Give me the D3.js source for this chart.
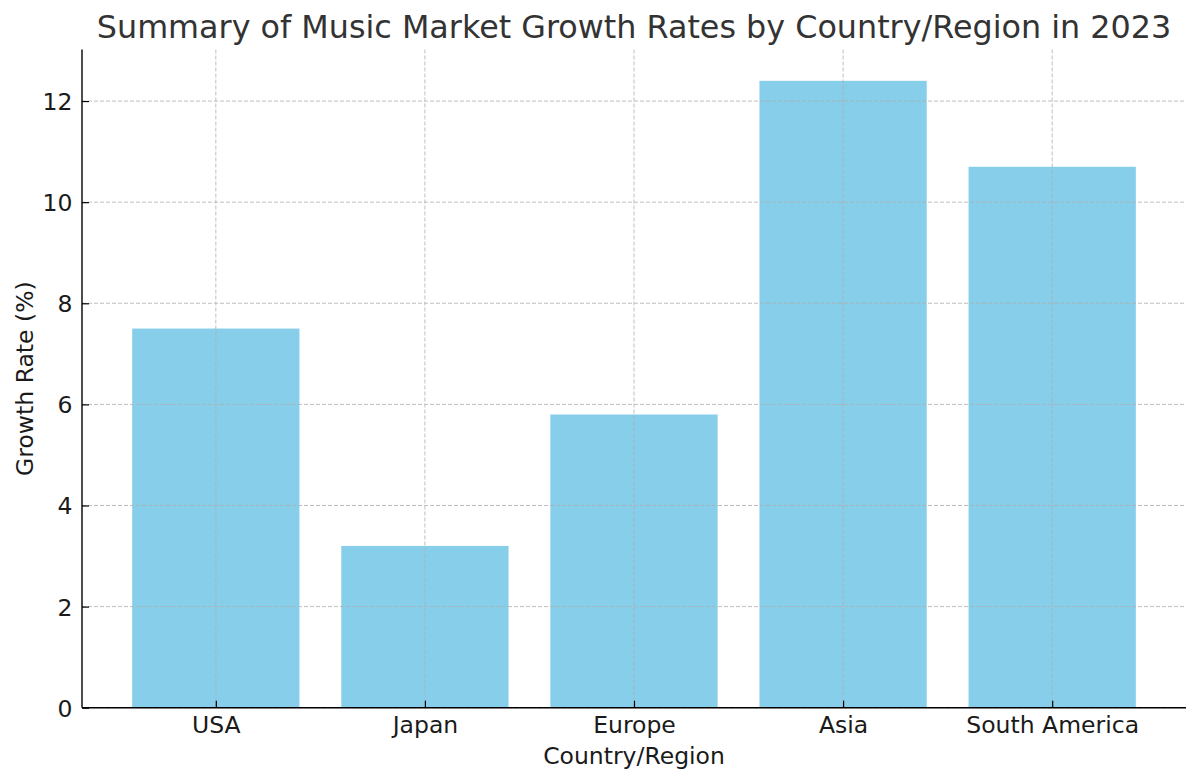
<!DOCTYPE html>
<html>
<head>
<meta charset="utf-8">
<script src="https://cdn.jsdelivr.net/npm/d3@7"></script>
<style>
  body { margin: 0; background: #fff; }
  svg { display: block; font-family: "DejaVu Sans", sans-serif; }
</style>
</head>
<body>
<svg id="chart" width="1200" height="784"></svg>
<script>
// data
const regions = ["USA", "Japan", "Europe", "Asia", "South America"];
const growthRates = [7.5, 3.2, 5.8, 12.4, 10.7];
const yTicks = [0, 2, 4, 6, 8, 10, 12];

const width = 1200,
	height = 784;
const margin = { top: 49.5, right: 14, bottom: 76.3, left: 82 };
const innerW = width - margin.left - margin.right;
const innerH = height - margin.top - margin.bottom;
const barColor = "#87CEEB";

const svg = d3.select("#chart");
const g = svg.append("g").attr("transform", `translate(${margin.left},${margin.top})`);

// matplotlib-like scales: bars 0.8 wide, 5% padding each side
const x = d3.scaleLinear().domain([-0.64, regions.length - 1 + 0.64]).range([0, innerW]);
const y = d3.scaleLinear().domain([0, d3.max(growthRates) * 1.05]).range([innerH, 0]);
const barW = x(0.8) - x(0);

// bars
g.selectAll(".bar")
	.data(regions)
	.join("rect")
	.classed("bar", true)
	.attr("x", (d, i) => x(i) - barW / 2)
	.attr("y", (d, i) => y(growthRates[i]))
	.attr("width", barW)
	.attr("height", (d, i) => innerH - y(growthRates[i]))
	.attr("fill", barColor);

// grid (drawn over the bars, like the original)
const grid = g.append("g").attr("stroke", "#b0b0b0").attr("stroke-width", 1)
	.attr("stroke-dasharray", "4,2").attr("opacity", 0.8);
grid.selectAll(".hgrid")
	.data(yTicks)
	.join("line")
	.attr("x1", 0).attr("x2", innerW)
	.attr("y1", (d) => y(d)).attr("y2", (d) => y(d));
grid.selectAll(".vgrid")
	.data(regions)
	.join("line")
	.attr("x1", (d, i) => x(i)).attr("x2", (d, i) => x(i))
	.attr("y1", 0).attr("y2", innerH);

// y axis, ticks pointing inward
const yAxis = g.append("g")
	.call(d3.axisLeft(y).tickValues(yTicks).tickSize(-7).tickPadding(9.5).tickFormat(d3.format("d")));
yAxis.select(".domain").attr("d", `M0,${innerH}V0`).attr("stroke", "#000").attr("stroke-width", 1.4);
yAxis.selectAll(".tick line").attr("stroke", "#000").attr("stroke-width", 1.2);
yAxis.selectAll(".tick text").attr("font-size", 23.5).attr("fill", "#1a1a1a")
	.attr("font-family", "DejaVu Sans").attr("dy", "0.36em");

// x axis
const xAxis = g.append("g")
	.attr("transform", `translate(0,${innerH})`)
	.call(d3.axisBottom(x).tickValues(d3.range(regions.length)).tickSize(-7).tickPadding(12.5)
		.tickFormat((i) => regions[i]));
xAxis.select(".domain").attr("d", `M0,0H${innerW}`).attr("stroke", "#000").attr("stroke-width", 1.4);
xAxis.selectAll(".tick line").attr("stroke", "#000").attr("stroke-width", 1.2);
xAxis.selectAll(".tick text").attr("font-size", 23.5).attr("fill", "#1a1a1a")
	.attr("font-family", "DejaVu Sans").attr("dy", "0.56em");

// labels
svg.append("text")
	.attr("x", margin.left + innerW / 2)
	.attr("y", 38)
	.attr("text-anchor", "middle")
	.attr("font-size", 31.8)
	.attr("fill", "#333")
	.text("Summary of Music Market Growth Rates by Country/Region in 2023");

svg.append("text")
	.attr("x", margin.left + innerW / 2)
	.attr("y", 764)
	.attr("text-anchor", "middle")
	.attr("font-size", 23.5)
	.attr("fill", "#1a1a1a")
	.text("Country/Region");

svg.append("text")
	.attr("transform", `translate(33,${margin.top + innerH / 2}) rotate(-90)`)
	.attr("text-anchor", "middle")
	.attr("font-size", 23.5)
	.attr("fill", "#1a1a1a")
	.text("Growth Rate (%)");
</script>
</body>
</html>
